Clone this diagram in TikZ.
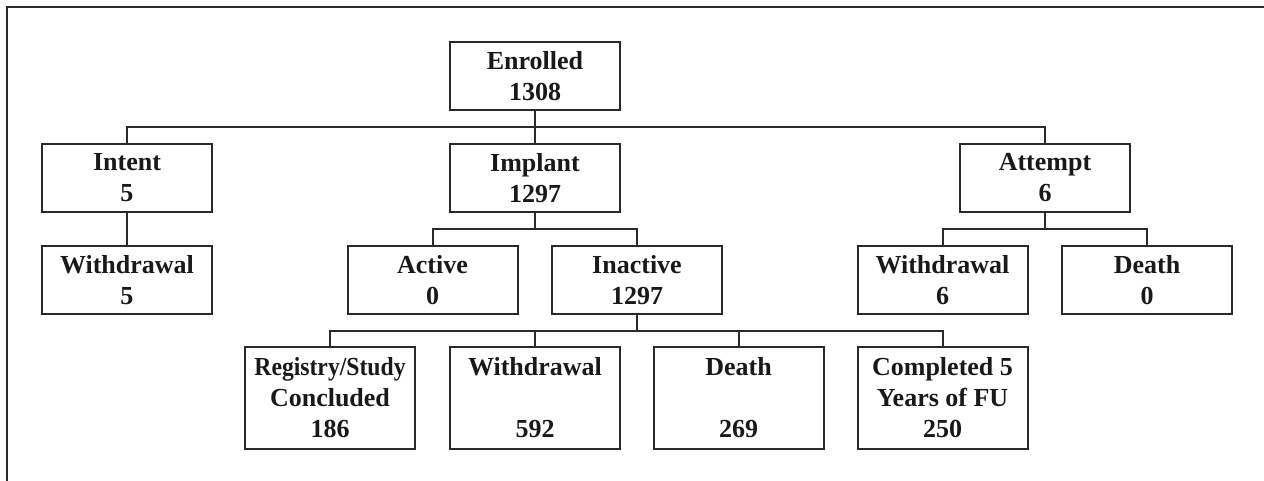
\documentclass[tikz,border=0pt]{standalone}
\usepackage{fontspec}
\setmainfont{Liberation Serif}
\definecolor{ink}{HTML}{2A2A2A}
\begin{document}
\begin{tikzpicture}[x=0.5pt,y=-0.5pt,
  box/.style={draw=ink,line width=1pt,minimum width=85pt,minimum height=34pt,inner sep=0pt,
    align=center,font=\fontsize{13}{15.5}\selectfont\bfseries,text=black!90},
  tall/.style={box,minimum height=51pt},
  link/.style={draw=ink,line width=1pt}]
\useasboundingbox (0,0) rectangle (1264,481);
\draw[ink,line width=1pt] (7,481) -- (7,7.5) -- (1264,7.5);
\node[box] (enr) at (535,76) {Enrolled\\1308};
\node[box] (int) at (127,178) {Intent\\5};
\node[box] (imp) at (535,178) {Implant\\1297};
\node[box] (att) at (1045,178) {Attempt\\6};
\node[box] (w1) at (127,280) {Withdrawal\\5};
\node[box] (act) at (432.5,280) {Active\\0};
\node[box] (ina) at (637,280) {Inactive\\1297};
\node[box] (aw) at (942.5,280) {Withdrawal\\6};
\node[box] (ad) at (1147,280) {Death\\0};
\node[tall] (reg) at (330,398) {\scalebox{0.91}[1]{Registry/Study}\\Concluded\\186};
\node[tall] (iw) at (535,398) {Withdrawal\\\strut\\592};
\node[tall] (idth) at (738.5,398) {Death\\\strut\\269};
\node[tall] (comp) at (942.5,398) {Completed 5\\Years of FU\\250};
\coordinate (b1) at (535,127);
\coordinate (b2) at (535,229);
\coordinate (b3) at (1045,229);
\coordinate (b4) at (637,331);
\draw[link] (enr.south) -- (imp.north);
\draw[link] (int.north) |- (b1) -| (att.north);
\draw[link] (int.south) -- (w1.north);
\draw[link] (imp.south) -- (b2);
\draw[link] (act.north) |- (b2) -| (ina.north);
\draw[link] (att.south) -- (b3);
\draw[link] (aw.north) |- (b3) -| (ad.north);
\draw[link] (ina.south) -- (b4);
\draw[link] (reg.north) |- (b4) -| (comp.north);
\draw[link] (iw.north) |- (b4);
\draw[link] (idth.north) |- (b4);
\end{tikzpicture}
\end{document}
